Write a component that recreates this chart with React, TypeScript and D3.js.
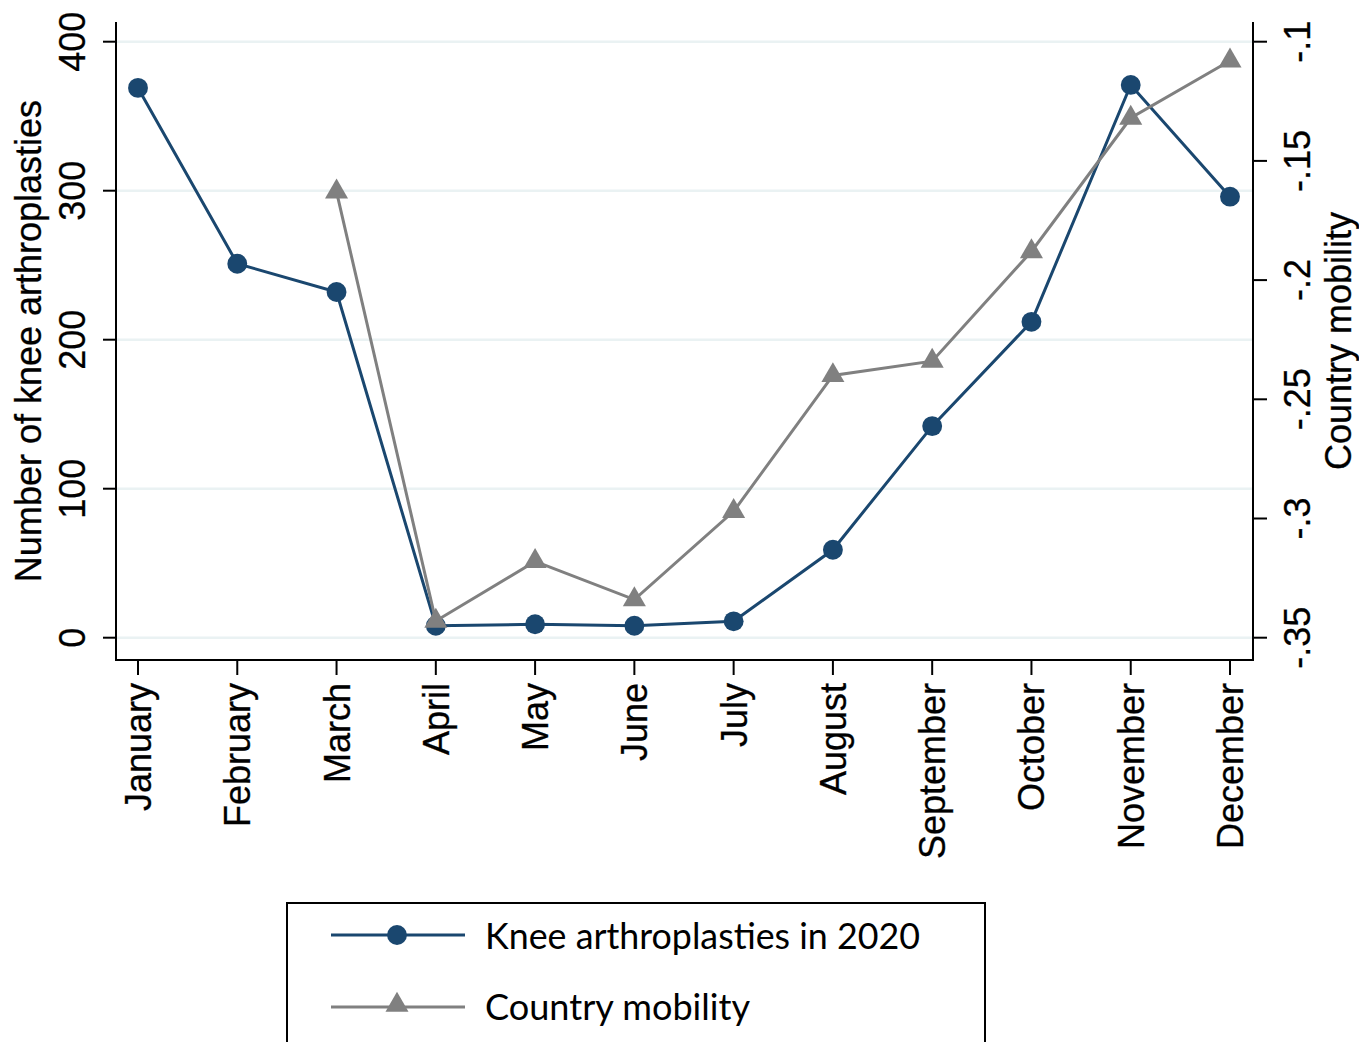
import React from "react";
import * as d3 from "d3";

const months = ["January","February","March","April","May","June","July","August","September","October","November","December"];
const knee = [369, 251, 232, 8, 9, 8, 11, 59, 142, 212, 371, 296];
const mobility: (number | null)[] = [null, null, -0.163, -0.343, -0.318, -0.334, -0.297, -0.240, -0.234, -0.188, -0.132, -0.108];
const leftTicks = [0, 100, 200, 300, 400];
const rightTicks = [-0.35, -0.3, -0.25, -0.2, -0.15, -0.1];
const rightTickLabels = ["-.35", "-.3", "-.25", "-.2", "-.15", "-.1"];
const legendLabels = ["Knee arthroplasties in 2020", "Country mobility"];

const W = 1359, H = 1042;
const plotL = 116, plotR = 1253, plotT = 22, plotB = 660;
const BLUE = "#1a476f", GRAY = "#808080";
const AX_FONT = "'Liberation Sans', Arial, sans-serif";

export default function App() {
  const x = d3.scalePoint<string>().domain(months).range([138, 1230]);
  const yL = d3.scaleLinear().domain([0, 400]).range([637.7, 41.7]);
  const yR = d3.scaleLinear().domain([-0.35, -0.1]).range([637.7, 41.7]);

  const kneeLine = d3.line<number>().x((_, i) => x(months[i])!).y(d => yL(d));
  const mobPts = mobility.map((v, i) => ({ v, m: months[i] })).filter(d => d.v !== null) as { v: number; m: string }[];
  const mobLine = d3.line<{ v: number; m: string }>().x(d => x(d.m)!).y(d => yR(d.v));
  const tri = d3.symbol().type(d3.symbolTriangle).size(230)();
  const circ = d3.symbol().type(d3.symbolCircle).size(310)();

  return (
    <svg width={W} height={H} style={{ position: "absolute", left: 0, top: 0, background: "#fff" }}>
      <rect x={0} y={0} width={W} height={H} fill="#fff" />
      {leftTicks.map(t => (
        <line key={t} x1={plotL + 1} x2={plotR - 1} y1={yL(t)} y2={yL(t)} stroke="#eaf2f3" strokeWidth={2.5} />
      ))}
      <line x1={plotL} x2={plotL} y1={plotT} y2={plotB + 1} stroke="#000" strokeWidth={2} />
      <line x1={plotR} x2={plotR} y1={plotT} y2={plotB + 1} stroke="#000" strokeWidth={2} />
      <line x1={plotL} x2={plotR} y1={plotB} y2={plotB} stroke="#000" strokeWidth={2} />
      {leftTicks.map(t => (
        <g key={t}>
          <line x1={plotL - 13} x2={plotL} y1={yL(t)} y2={yL(t)} stroke="#000" strokeWidth={2} />
          <text transform={`translate(72,${yL(t)}) rotate(-90)`} textAnchor="middle" dy="0.36em" fontFamily={AX_FONT} fontSize={36} stroke="#000" strokeWidth={0.3}>{t}</text>
        </g>
      ))}
      {rightTicks.map((t, i) => (
        <g key={t}>
          <line x1={plotR} x2={plotR + 14} y1={yR(t)} y2={yR(t)} stroke="#000" strokeWidth={2} />
          <text transform={`translate(1297,${yR(t)}) rotate(-90)`} textAnchor="middle" dy="0.36em" fontFamily={AX_FONT} fontSize={36} stroke="#000" strokeWidth={0.3}>{rightTickLabels[i]}</text>
        </g>
      ))}
      {months.map(m => (
        <g key={m}>
          <line x1={x(m)} x2={x(m)} y1={plotB} y2={plotB + 15} stroke="#000" strokeWidth={2} />
          <text transform={`translate(${x(m)},683) rotate(-90)`} textAnchor="end" dy="0.36em" fontFamily={AX_FONT} fontSize={36} stroke="#000" strokeWidth={0.3}>{m}</text>
        </g>
      ))}
      <text transform={`translate(28,341) rotate(-90)`} textAnchor="middle" dy="0.36em" fontFamily={AX_FONT} fontSize={36} stroke="#000" strokeWidth={0.3}>Number of knee arthroplasties</text>
      <text transform={`translate(1338,341) rotate(-90)`} textAnchor="middle" dy="0.36em" fontFamily={AX_FONT} fontSize={36} stroke="#000" strokeWidth={0.3}>Country mobility</text>

      <path d={kneeLine(knee)!} fill="none" stroke={BLUE} strokeWidth={3} />
      {knee.map((v, i) => (
        <path key={i} d={circ!} transform={`translate(${x(months[i])},${yL(v)})`} fill={BLUE} />
      ))}
      <path d={mobLine(mobPts)!} fill="none" stroke={GRAY} strokeWidth={3} />
      {mobPts.map((d, i) => (
        <path key={i} d={tri!} transform={`translate(${x(d.m)},${yR(d.v)})`} fill={GRAY} />
      ))}

      <rect x={287} y={903} width={698} height={160} fill="#fff" stroke="#000" strokeWidth={2} />
      <line x1={331} x2={465} y1={935} y2={935} stroke={BLUE} strokeWidth={3} />
      <path d={circ!} transform="translate(397,935)" fill={BLUE} />
      <line x1={331} x2={465} y1={1007} y2={1007} stroke={GRAY} strokeWidth={3} />
      <path d={tri!} transform="translate(397,1005)" fill={GRAY} />
      <text x={485} y={949} fontFamily="Lato, 'Open Sans', sans-serif" fontSize={37} textLength={435} lengthAdjust="spacingAndGlyphs">{legendLabels[0]}</text>
      <text x={485} y={1020} fontFamily="Lato, 'Open Sans', sans-serif" fontSize={37} textLength={265} lengthAdjust="spacingAndGlyphs">{legendLabels[1]}</text>
    </svg>
  );
}
